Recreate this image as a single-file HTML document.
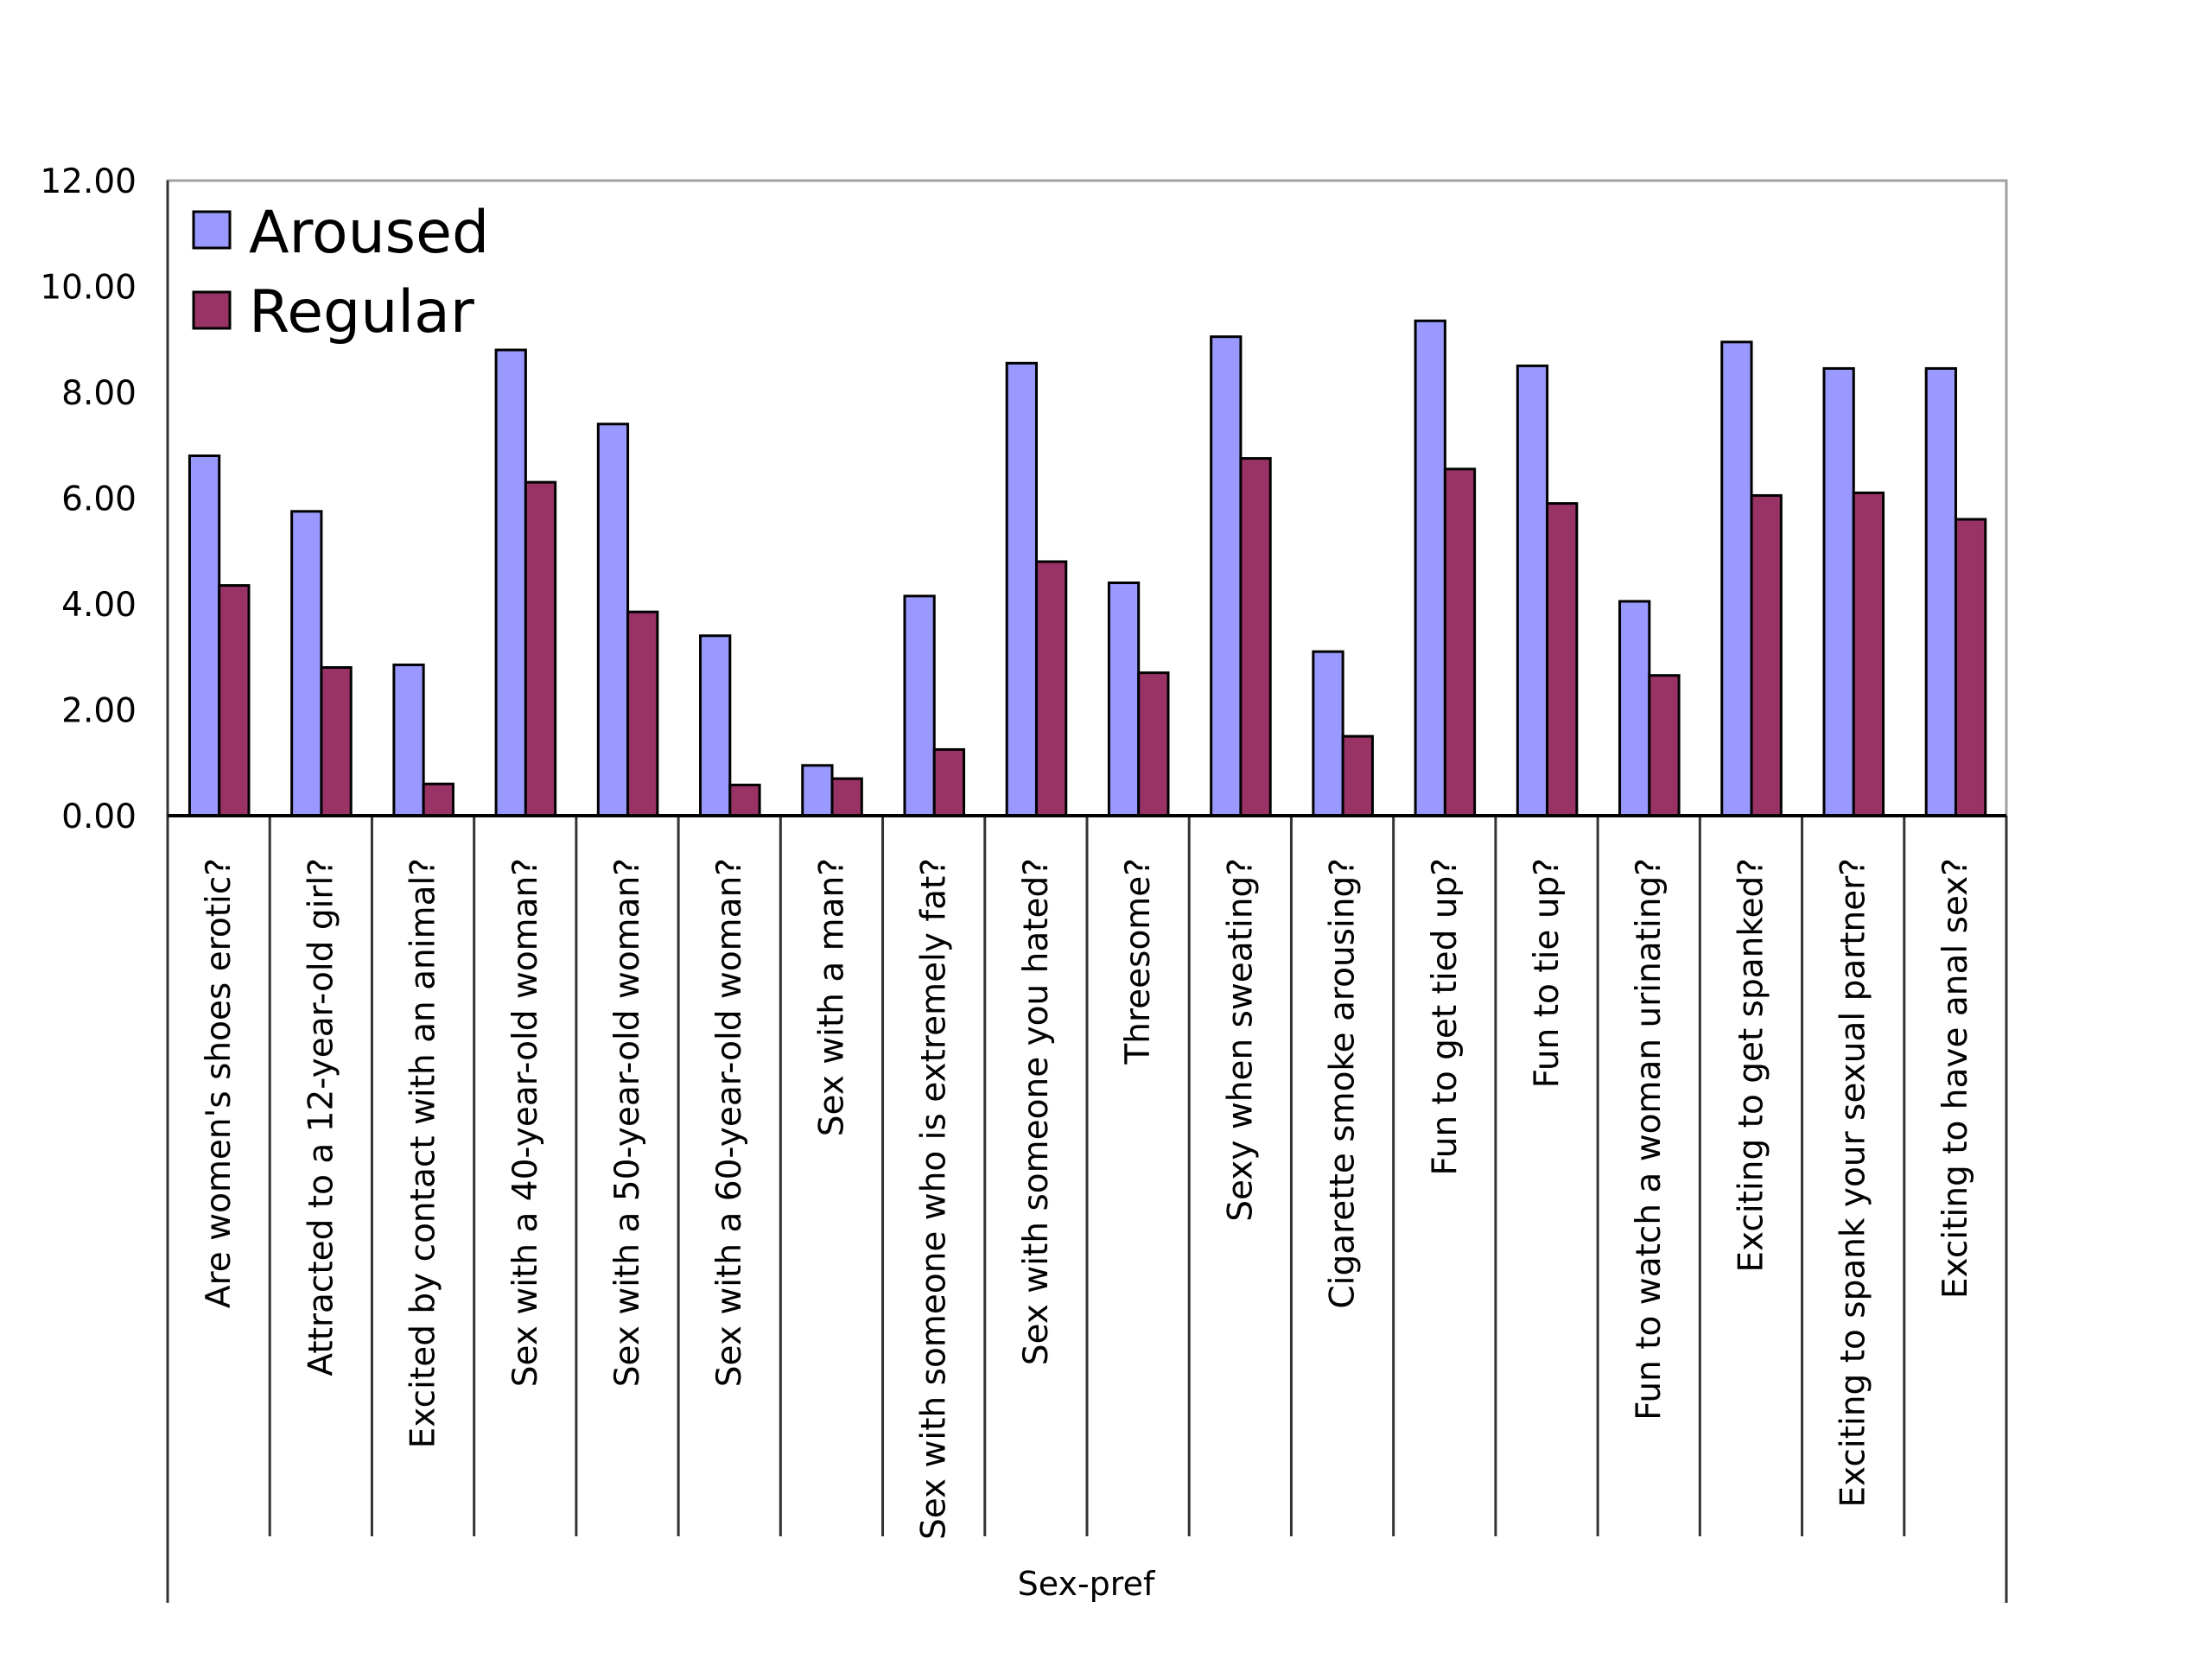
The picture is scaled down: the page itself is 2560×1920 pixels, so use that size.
<!DOCTYPE html>
<html><head><meta charset="utf-8"><style>
html,body{margin:0;padding:0;background:#fff;}
svg{display:block;font-family:"DejaVu Sans","Liberation Sans",sans-serif;}
</style></head><body>
<svg id="chart" width="2560" height="1920" viewBox="0 0 2560 1920" xmlns="http://www.w3.org/2000/svg">
<rect x="194" y="209" width="2128" height="735" fill="#fff" stroke="#a0a0a0" stroke-width="3"/>
<g id="bars"></g>
<g id="axes"></g>
<g>
<rect x="224" y="245" width="42" height="42" fill="#9999ff" stroke="#000" stroke-width="3"/>
<text x="288" y="292" font-size="68" fill="#000">Aroused</text>
<rect x="224" y="338" width="42" height="42" fill="#993366" stroke="#000" stroke-width="3"/>
<text x="288" y="384" font-size="68" fill="#000">Regular</text>
</g>
<text x="1257" y="1846" font-size="38" text-anchor="middle" fill="#000">Sex-pref</text>
</svg>
<script>
const categories = ["Are women's shoes erotic?","Attracted to a 12-year-old girl?","Excited by contact with an animal?","Sex with a 40-year-old woman?","Sex with a 50-year-old woman?","Sex with a 60-year-old woman?","Sex with a man?","Sex with someone who is extremely fat?","Sex with someone you hated?","Threesome?","Sexy when sweating?","Cigarette smoke arousing?","Fun to get tied up?","Fun to tie up?","Fun to watch a woman urinating?","Exciting to get spanked?","Exciting to spank your sexual partner?","Exciting to have anal sex?"];
const aroused = [6.8,5.75,2.85,8.8,7.4,3.4,0.95,4.15,8.55,4.4,9.05,3.1,9.35,8.5,4.05,8.95,8.45,8.45];
const regular = [4.35,2.8,0.6,6.3,3.85,0.58,0.7,1.25,4.8,2.7,6.75,1.5,6.55,5.9,2.65,6.05,6.1,5.6];
const yTicks = [0,2,4,6,8,10,12];
const yTickLabels = ["0.00","2.00","4.00","6.00","8.00","10.00","12.00"];

const NS = "http://www.w3.org/2000/svg";
const L = 194, R = 2322, T = 209, Z = 944;
const yMax = 12;
function y(v){ return Z - (v / yMax) * (Z - T); }
const bw = (R - L) / categories.length;
function x(i){ return L + i * bw; }
function mk(tag, attrs, parent){
  const e = document.createElementNS(NS, tag);
  for (const k in attrs) e.setAttribute(k, attrs[k]);
  parent.appendChild(e);
  return e;
}
const barsG = document.getElementById('bars');
const axesG = document.getElementById('axes');
const barW = bw * 0.29, off = bw * 0.215;
categories.forEach((c, i) => {
  const a = mk('rect', {x: x(i) + off, y: y(aroused[i]), width: barW, height: Z - y(aroused[i]), fill: '#9999ff', stroke: '#000', 'stroke-width': 3}, barsG);
  
  
  const r = mk('rect', {x: x(i) + off + barW, y: y(regular[i]), width: barW, height: Z - y(regular[i]), fill: '#993366', stroke: '#000', 'stroke-width': 3}, barsG);
  
  
  const t = mk('text', {x: 0, y: 0, 'font-size': 39, 'text-anchor': 'end', transform: 'translate(' + (x(i) + bw/2 + 13) + ',993) rotate(-90)', fill: '#000'}, axesG);
  t.textContent = c;
  
  
});
for (let i = 1; i < categories.length; i++){
  const d = mk('line', {x1: x(i), x2: x(i), y1: Z, y2: 1778, stroke: '#333', 'stroke-width': 3}, axesG);
  
  
}
const la = mk('line', {x1: L, x2: L, y1: T, y2: 1855, stroke: '#333', 'stroke-width': 3}, axesG);


const ra = mk('line', {x1: R, x2: R, y1: Z, y2: 1855, stroke: '#333', 'stroke-width': 3}, axesG);


const xa = mk('line', {x1: L, x2: R, y1: Z, y2: Z, stroke: '#000', 'stroke-width': 4}, axesG);


yTicks.forEach((v, i) => {
  const t = mk('text', {x: 158, y: y(v) + 14, 'font-size': 39, 'text-anchor': 'end', fill: '#000'}, axesG);
  t.textContent = yTickLabels[i];
  
  
});
</script>
</body></html>
